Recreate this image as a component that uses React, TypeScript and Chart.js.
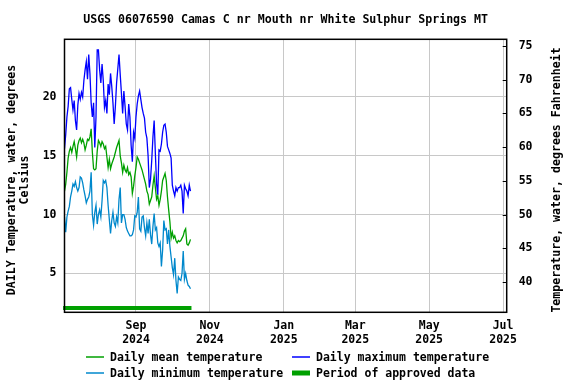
import { useEffect, useRef } from "react";
import { Chart, registerables } from "chart.js";

Chart.register(...registerables);

// Day 0 = 2024-07-04 ; axis spans one year to 2025-07-04
const axisDays = [0, 365];
const monthTickDays = [59, 120, 181, 240, 301, 362];
const monthTickLabels = [
  ["Sep", "2024"],
  ["Nov", "2024"],
  ["Jan", "2025"],
  ["Mar", "2025"],
  ["May", "2025"],
  ["Jul", "2025"],
];
const celsiusRange = [1.7, 24.9];
const celsiusTicks = [5, 10, 15, 20];
const fahrenheitRange = [35.5, 76];
const fahrenheitTicks = [40, 45, 50, 55, 60, 65, 70, 75];

const dailyMax = [
  15.6, 16.8, 18.3, 19.2, 20.7, 20.8, 19.8, 18.9, 19.7, 18.0,
  17.2, 19.3, 20.3, 19.8, 20.4, 20.0, 21.4, 22.3, 23.0, 21.5,
  23.6, 22.0, 19.5, 18.3, 19.5, 15.7, 18.3, 24.0, 24.0, 22.3,
  21.2, 22.8, 21.4, 19.1, 19.7, 18.6, 21.1, 20.2, 22.0, 20.9,
  19.5, 17.7, 19.2, 21.2, 22.4, 23.6, 21.9, 20.3, 18.6, 20.5,
  19.2, 17.7, 17.2, 19.4, 18.3, 15.9, 14.5, 17.0, 16.5, 18.3,
  19.4, 20.1, 20.5, 19.8, 19.1, 18.6, 18.2, 17.0, 16.5, 15.0,
  12.3, 13.0, 14.6, 16.6, 18.0, 15.2, 12.6, 11.7, 15.5, 15.4,
  16.0, 17.0, 17.6, 17.7, 17.0, 15.8, 15.5, 15.2, 14.8, 12.5,
  12.0, 11.6, 12.3, 12.0, 12.3, 12.3, 12.5, 12.0, 10.1, 12.5,
  12.2, 12.0, 11.6, 12.5, 12.0,
];

const dailyMean = [
  12.0, 12.6, 13.6, 14.8, 15.4, 15.7, 15.3, 15.8, 16.2, 15.6,
  14.9, 15.9, 16.3, 16.5, 16.1, 16.4, 16.1, 15.5, 15.9, 16.4,
  16.3, 16.6, 17.3, 15.3, 13.9, 13.8, 13.9, 15.4, 16.3, 16.1,
  15.8, 16.2, 16.0, 15.6, 15.8, 14.9, 14.0, 14.7, 13.9, 14.3,
  14.6, 14.9, 15.3, 15.7, 16.0, 16.3, 15.0, 14.4, 13.6, 14.2,
  13.8, 13.6, 14.0, 13.4, 13.6, 13.2, 11.8, 12.4, 13.3, 14.0,
  14.9, 14.7, 14.4, 14.1, 13.8, 13.4, 13.0, 12.6, 12.0, 11.7,
  10.9, 11.2, 11.5, 12.5, 13.3, 12.3, 11.3, 11.6, 10.8, 11.3,
  12.0, 12.9, 13.2, 13.5, 12.9, 11.5, 10.4, 9.4, 8.0, 8.5,
  8.0, 8.2, 7.8, 7.6, 7.8, 7.7, 7.8, 8.0, 8.2, 8.6,
  8.8, 7.5, 7.4, 7.6, 7.9,
];

const dailyMin = [
  9.8, 8.5, 9.8, 10.3, 10.7, 11.5, 12.0, 12.6, 12.4, 12.8,
  12.3, 12.0, 12.3, 13.2, 13.1, 12.7, 12.1, 11.6, 11.0, 11.3,
  11.5, 12.0, 13.6, 10.0, 9.1, 10.2, 10.8, 9.2, 10.0, 10.4,
  9.8, 11.2, 12.9, 12.7, 12.9, 12.3, 10.8, 9.6, 8.4, 9.5,
  10.2, 9.3, 9.0, 9.8, 9.3, 11.3, 12.3, 9.3, 10.0, 10.0,
  9.6, 8.9, 8.6, 8.4, 8.2, 8.2, 8.3, 8.7, 9.9, 9.8,
  10.2, 11.5, 8.8, 8.6, 9.8, 9.9, 8.9, 8.2, 9.3, 8.4,
  9.6, 8.3, 7.5, 9.0, 10.1, 8.7, 8.9, 7.6, 7.3, 7.6,
  5.6, 7.0, 9.5, 8.7, 8.8, 7.5, 8.7, 7.3, 6.4, 5.5,
  4.9, 6.3, 4.4, 3.3, 4.7, 4.5, 4.4, 5.0, 6.9, 4.5,
  5.0, 4.4, 4.0, 3.9, 3.7,
];

const approvedPeriod = [-1.2, 104.8];
const approvedLevel = 2.07;

const titleText = "USGS 06076590 Camas C nr Mouth nr White Sulphur Springs MT";
const leftTitle = ["DAILY Temperature, water, degrees", "Celsius"];
const rightTitle = "Temperature, water, degrees Fahrenheit";
const legendItems = [
  { label: "Daily mean temperature", color: "#00a000", width: 1.5 },
  { label: "Daily maximum temperature", color: "#0000ff", width: 1.5 },
  { label: "Daily minimum temperature", color: "#0088cc", width: 1.5 },
  { label: "Period of approved data", color: "#00a000", width: 5 },
];

const FONT = '"DejaVu Sans Mono", monospace';

const toPoints = (arr: number[]) => arr.map((v, i) => ({ x: i, y: v }));

const decorPlugin = {
  id: "decor",
  afterDraw(chart: any) {
    const ctx = chart.ctx as CanvasRenderingContext2D;
    const a = chart.chartArea;
    ctx.save();
    // plot border
    ctx.strokeStyle = "#000";
    ctx.lineWidth = 1.5;
    ctx.strokeRect(a.left, a.top, a.right - a.left, a.bottom - a.top);
    // right axis inward tick marks
    const yR = chart.scales.yF;
    ctx.lineWidth = 1;
    ctx.beginPath();
    for (const t of fahrenheitTicks) {
      const py = Math.round(yR.getPixelForValue(t)) + 0.5;
      ctx.moveTo(a.right - 4, py);
      ctx.lineTo(a.right, py);
    }
    ctx.stroke();

    ctx.fillStyle = "#000";
    // title
    ctx.font = `bold 11.6px ${FONT}`;
    ctx.textAlign = "center";
    ctx.textBaseline = "middle";
    ctx.fillText(titleText, (a.left + a.right) / 2, 20);

    // left axis title
    ctx.font = `bold 11.6px ${FONT}`;
    ctx.save();
    ctx.translate(12, 180);
    ctx.rotate(-Math.PI / 2);
    ctx.fillText(leftTitle[0], 0, 0);
    ctx.fillText(leftTitle[1], 0, 13);
    ctx.restore();

    // right axis title
    ctx.save();
    ctx.translate(556.5, 180);
    ctx.rotate(-Math.PI / 2);
    ctx.fillText(rightTitle, 0, 0);
    ctx.restore();

    // legend
    ctx.font = `bold 11.5px ${FONT}`;
    ctx.textAlign = "left";
    const cols = [86, 292];
    const rows = [357, 373];
    legendItems.forEach((it, i) => {
      const cx = cols[i % 2];
      const cy = rows[Math.floor(i / 2)];
      ctx.strokeStyle = it.color;
      ctx.lineWidth = it.width;
      ctx.beginPath();
      ctx.moveTo(cx, cy);
      ctx.lineTo(cx + 18, cy);
      ctx.stroke();
      ctx.fillStyle = "#000";
      ctx.fillText(it.label, cx + 24, cy + 1);
    });
    ctx.restore();
  },
};

export default function App() {
  const ref = useRef<HTMLCanvasElement | null>(null);

  useEffect(() => {
    if (!ref.current) return;
    const chart = new Chart(ref.current, {
      type: "line",
      data: {
        datasets: [
          {
            label: "Daily maximum temperature",
            data: toPoints(dailyMax),
            borderColor: "#0000ff",
            borderWidth: 1.3,
            pointRadius: 0,
            tension: 0,
            yAxisID: "y",
          },
          {
            label: "Daily mean temperature",
            data: toPoints(dailyMean),
            borderColor: "#00a000",
            borderWidth: 1.3,
            pointRadius: 0,
            tension: 0,
            yAxisID: "y",
          },
          {
            label: "Daily minimum temperature",
            data: toPoints(dailyMin),
            borderColor: "#0088cc",
            borderWidth: 1.3,
            pointRadius: 0,
            tension: 0,
            yAxisID: "y",
          },
          {
            label: "Period of approved data",
            data: approvedPeriod.map((d) => ({ x: d, y: approvedLevel })),
            borderColor: "#00a000",
            borderWidth: 4,
            borderCapStyle: "butt",
            pointRadius: 0,
            yAxisID: "y",
            clip: false as any,
          },
        ],
      },
      options: {
        animation: false,
        responsive: false,
        maintainAspectRatio: false,
        layout: { padding: { top: 39.3, left: 0, right: 0, bottom: 0 } },
        plugins: {
          legend: { display: false },
          title: { display: false },
          tooltip: { enabled: false },
        },
        scales: {
          x: {
            type: "linear",
            min: axisDays[0],
            max: axisDays[1],
            border: { display: false },
            grid: { color: "#c8c8c8", lineWidth: 1, drawTicks: false },
            afterBuildTicks: (s: any) => {
              s.ticks = monthTickDays.map((v) => ({ value: v }));
            },
            afterFit: (s: any) => {
              s.height = 71.7;
            },
            ticks: {
              autoSkip: false,
              maxRotation: 0,
              padding: 7,
              color: "#000",
              font: { family: FONT, size: 11.5, weight: "bold" },
              callback: (v: any) => {
                const i = monthTickDays.indexOf(Number(v));
                return i >= 0 ? monthTickLabels[i] : "";
              },
            },
          },
          y: {
            type: "linear",
            position: "left",
            min: celsiusRange[0],
            max: celsiusRange[1],
            border: { display: false },
            grid: { color: "#c8c8c8", lineWidth: 1, drawTicks: false },
            afterBuildTicks: (s: any) => {
              s.ticks = celsiusTicks.map((v) => ({ value: v }));
            },
            afterFit: (s: any) => {
              s.width = 64.5;
            },
            ticks: {
              padding: 8,
              color: "#000",
              font: { family: FONT, size: 11.5, weight: "bold" },
              callback: (v: any) => String(v),
            },
          },
          yF: {
            type: "linear",
            position: "right",
            min: fahrenheitRange[0],
            max: fahrenheitRange[1],
            border: { display: false },
            grid: { display: false, drawTicks: false },
            afterBuildTicks: (s: any) => {
              s.ticks = fahrenheitTicks.map((v) => ({ value: v }));
            },
            afterFit: (s: any) => {
              s.width = 69.3;
            },
            ticks: {
              padding: 12,
              color: "#000",
              font: { family: FONT, size: 11.5, weight: "bold" },
              callback: (v: any) => String(v),
            },
          },
        },
      } as any,
      plugins: [decorPlugin],
    });
    return () => chart.destroy();
  }, []);

  return (
    <div style={{ position: "fixed", left: 0, top: 0, width: 576, height: 384, background: "#fff" }}>
      <canvas ref={ref} width={576} height={384} style={{ display: "block", width: 576, height: 384 }} />
    </div>
  );
}
